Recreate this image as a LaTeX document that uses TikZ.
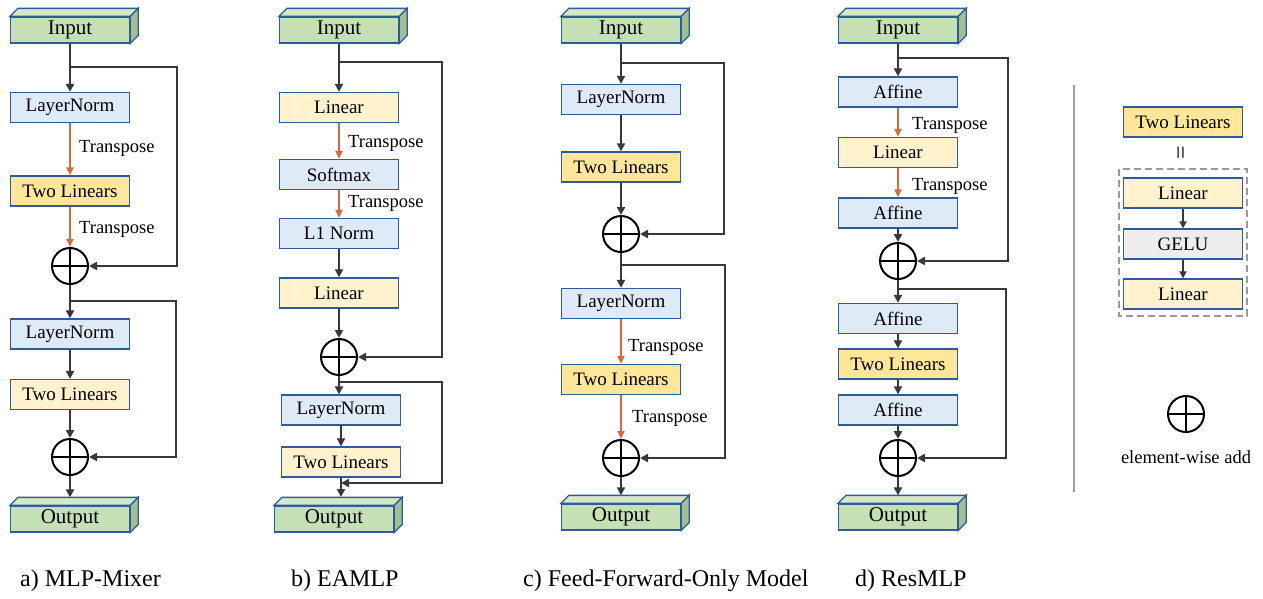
\documentclass[tikz,border=0pt]{standalone}
\usepackage{fontspec}
\setmainfont{Liberation Serif}
\usetikzlibrary{arrows.meta,calc}
\definecolor{boxedge}{HTML}{2E5C9A}
\definecolor{blueF}{HTML}{DEEBF7}
\definecolor{ylwL}{HTML}{FFF2CC}
\definecolor{ylwD}{HTML}{FFE699}
\definecolor{grnF}{HTML}{C5E0B4}
\definecolor{grnT}{HTML}{D5E8CA}
\definecolor{grnS}{HTML}{A3BE93}
\definecolor{grayF}{HTML}{EDEDED}
\definecolor{lineC}{HTML}{383838}
\definecolor{orgC}{HTML}{D9693A}
\newcommand\cubenode[4]{%
  \node[cubebox] (#1) at (#2,#3) {#4};
  \filldraw[draw=boxedge, line width=1.3pt, fill=grnT] (#1.north west) -- ++(8,-8) -- ($(#1.north east)+(8,-8)$) -- (#1.north east) -- cycle;
  \filldraw[draw=boxedge, line width=1.3pt, fill=grnS] (#1.north east) -- ++(8,-8) -- ($(#1.south east)+(8,-8)$) -- (#1.south east) -- cycle;
  \coordinate (#1T) at ($(#1.north)+(0,-8)$);
}
\begin{document}
\begin{tikzpicture}[x=1pt,y=-1pt,
  bx/.style={draw=boxedge, line width=1.3pt, minimum width=119pt, minimum height=30pt, inner sep=0pt, font=\fontsize{19}{21}\selectfont},
  blu/.style={bx, fill=blueF},
  ylw/.style={bx, fill=ylwL},
  ylwd/.style={bx, fill=ylwD},
  gel/.style={bx, fill=grayF},
  cubebox/.style={bx, fill=grnF, minimum height=26pt, font=\fontsize{21}{22}\selectfont},
  addc/.style={circle, draw=black, line width=2pt, minimum size=36pt, inner sep=0pt,
    path picture={\draw[line width=2pt] (path picture bounding box.north) -- (path picture bounding box.south) (path picture bounding box.west) -- (path picture bounding box.east);}},
  conn/.style={draw=lineC, line width=2.8pt, -{Triangle[length=8pt,width=8pt]}},
  lconn/.style={draw=lineC, line width=2.4pt, -{Triangle[length=7pt,width=7pt]}},
  tr/.style={draw=orgC, line width=2pt, -{Triangle[length=8pt,width=7pt]}},
  lbl/.style={font=\fontsize{18.5}{20}\selectfont, anchor=west, inner sep=0pt},
  captxt/.style={font=\fontsize{24}{26}\selectfont, anchor=west, inner sep=0pt}
]
\useasboundingbox (0,0) rectangle (1263,598);

% ---------------- column a
\cubenode{ain}{70}{30}{Input}
\node[blu] (aln1) at (70,107.5) {LayerNorm};
\node[ylwd] (atl1) at (70,191) {Two Linears};
\node[addc] (ap1) at (70,266) {};
\node[blu] (aln2) at (70,334) {LayerNorm};
\node[ylw] (atl2) at (70,394.5) {Two Linears};
\node[addc] (ap2) at (70,457) {};
\cubenode{aout}{70}{519}{Output}
\coordinate (a1) at (70,67); \coordinate (ar1) at (177,67);
\coordinate (a2) at (70,301); \coordinate (ar2) at (176,301);
\draw[conn] (ain) -- (aln1);
\draw[tr] (aln1) -- (atl1);
\draw[tr] (atl1) -- (ap1);
\draw[conn] (a1) -- (ar1) |- (ap1.east);
\draw[conn] (ap1) -- (aln2);
\draw[conn] (aln2) -- (atl2);
\draw[conn] (atl2) -- (ap2);
\draw[conn] (a2) -- (ar2) |- (ap2.east);
\draw[conn] (ap2) -- (aoutT);
\node[lbl] (ta1) at (79,148) {Transpose};
\node[lbl] (ta2) at (79,229) {Transpose};

% ---------------- column b
\cubenode{bin}{339}{30}{Input}
\node[ylw] (blin1) at (339,107.5) {Linear};
\node[blu] (bsm) at (339,174.5) {Softmax};
\node[blu] (bl1) at (339,233.5) {L1 Norm};
\node[ylw] (blin2) at (339,293) {Linear};
\node[addc] (bp1) at (339,357) {};
\node[blu] (bln) at (341,410) {LayerNorm};
\node[ylw] (btl) at (341,462) {Two Linears};
\cubenode{bout}{334}{519}{Output}
\coordinate (b1) at (339,62); \coordinate (br1) at (442,62);
\coordinate (b2) at (339,382); \coordinate (br2) at (442,382);
\coordinate (bj) at (341,483); \coordinate (bo) at (341,497);
\draw[conn] (bin) -- (blin1);
\draw[tr] (blin1) -- (bsm);
\draw[tr] (bsm) -- (bl1);
\draw[conn] (bl1) -- (blin2);
\draw[conn] (blin2) -- (bp1);
\draw[conn] (b1) -- (br1) |- (bp1.east);
\draw[conn] (bp1) -- (bp1 |- bln.north);
\draw[conn] (bln) -- (btl);
\draw[conn] (b2) -- (br2) |- (bj);
\draw[conn] (btl.south) -- (bo);
\node[lbl] (tb1) at (348,143) {Transpose};
\node[lbl] (tb2) at (348,203) {Transpose};

% ---------------- column c
\cubenode{cin}{621}{30}{Input}
\node[blu] (cln1) at (621,99.5) {LayerNorm};
\node[ylwd] (ctl1) at (621,167) {Two Linears};
\node[addc] (cp1) at (621,234) {};
\node[blu] (cln2) at (621,303.5) {LayerNorm};
\node[ylwd] (ctl2) at (621,379.5) {Two Linears};
\node[addc] (cp2) at (621,458) {};
\cubenode{cout}{621}{517}{Output}
\coordinate (c1) at (621,63); \coordinate (cr1) at (724,63);
\coordinate (c2) at (621,265); \coordinate (cr2) at (725,265);
\draw[conn] (cin) -- (cln1);
\draw[conn] (cln1) -- (ctl1);
\draw[conn] (ctl1) -- (cp1);
\draw[conn] (c1) -- (cr1) |- (cp1.east);
\draw[conn] (cp1) -- (cln2);
\draw[tr] (cln2) -- (ctl2);
\draw[tr] (ctl2) -- (cp2);
\draw[conn] (c2) -- (cr2) |- (cp2.east);
\draw[conn] (cp2) -- (coutT);
\node[lbl] (tc1) at (628,347) {Transpose};
\node[lbl] (tc2) at (632,418) {Transpose};

% ---------------- column d
\cubenode{din}{898}{30}{Input}
\node[blu] (daf1) at (898,92) {Affine};
\node[ylw] (dlin) at (898,152.5) {Linear};
\node[blu] (daf2) at (898,213) {Affine};
\node[addc] (dp1) at (898,261) {};
\node[blu] (daf3) at (898,318.5) {Affine};
\node[ylwd] (dtl) at (898,364) {Two Linears};
\node[blu] (daf4) at (898,410) {Affine};
\node[addc] (dp2) at (898,458) {};
\cubenode{dout}{898}{517}{Output}
\coordinate (d1) at (898,58); \coordinate (dr1) at (1008,58);
\coordinate (d2) at (898,289); \coordinate (dr2) at (1006,289);
\draw[conn] (din) -- (daf1);
\draw[tr] (daf1) -- (dlin);
\draw[tr] (dlin) -- (daf2);
\draw[conn] (daf2) -- (dp1);
\draw[conn] (d1) -- (dr1) |- (dp1.east);
\draw[conn] (dp1) -- (daf3);
\draw[conn] (daf3) -- (dtl);
\draw[conn] (dtl) -- (daf4);
\draw[conn] (daf4) -- (dp2);
\draw[conn] (d2) -- (dr2) |- (dp2.east);
\draw[conn] (dp2) -- (doutT);
\node[lbl] (td1) at (912,125) {Transpose};
\node[lbl] (td2) at (912,186) {Transpose};

% ---------------- legend
\draw[draw=gray!75, line width=1.5pt] (1074,85) -- (1074,492);
\node[ylwd] (ltl) at (1183,122) {Two Linears};
\node[rotate=90, font=\fontsize{24}{24}\selectfont, inner sep=0pt] (leq) at (1183,153) {=};
\draw[draw=gray!80, line width=1.3pt, dash pattern=on 7pt off 4pt] (1119,169) rectangle (1247,316);
\node[ylw] (ll1) at (1183,193) {Linear};
\node[gel] (lg) at (1183,244) {GELU};
\node[ylw] (ll2) at (1183,294) {Linear};
\draw[lconn] (ll1) -- (lg);
\draw[lconn] (lg) -- (ll2);
\node[addc] (lp) at (1186,414) {};
\node[font=\fontsize{18.5}{20}\selectfont] (lt) at (1186,457) {element-wise add};

% ---------------- captions
\node[captxt] (capa) at (20,581) {a) MLP-Mixer};
\node[captxt] (capb) at (291,581) {b) EAMLP};
\node[captxt] (capc) at (523,581) {c) Feed-Forward-Only Model};
\node[captxt] (capd) at (855,581) {d) ResMLP};
\end{tikzpicture}
\end{document}
